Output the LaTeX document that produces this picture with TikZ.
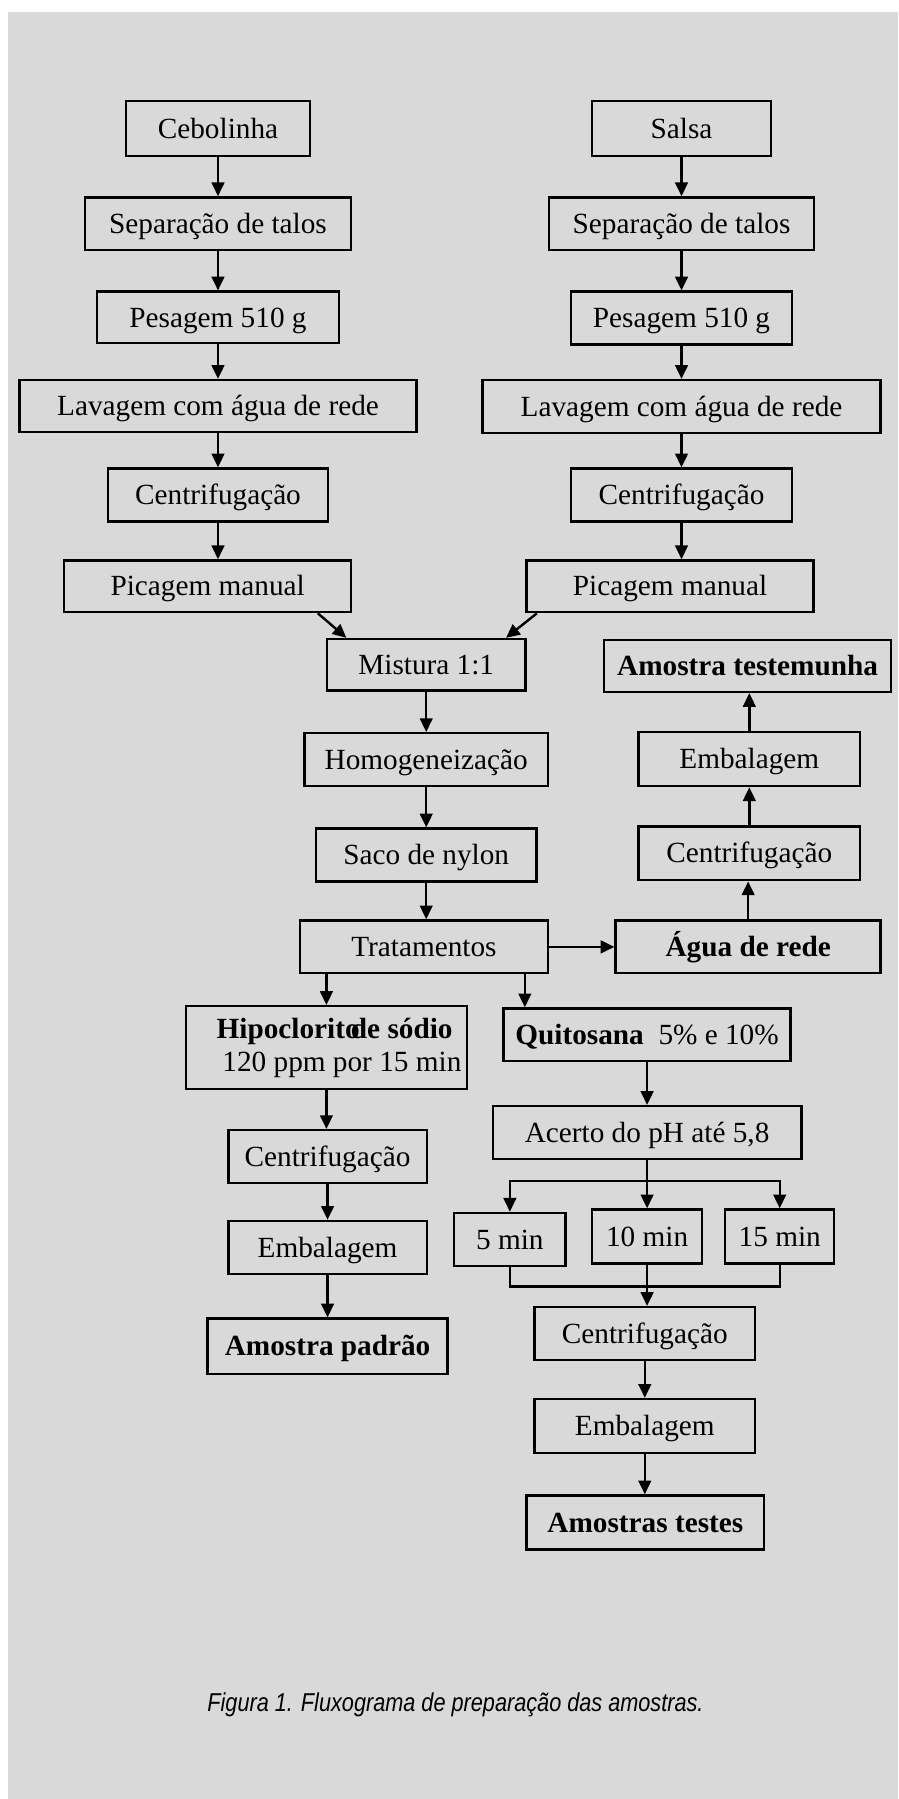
\documentclass[tikz,border=0pt]{standalone}
\usepackage{fontspec}
\setmainfont{Liberation Serif}
\newfontfamily\captionfont[FakeStretch=0.84]{Liberation Sans}
\usetikzlibrary{positioning, arrows.meta}
\definecolor{paper}{RGB}{217,217,217}

\begin{document}
\begin{tikzpicture}[
  x=1pt, y=-1pt,
  plainbox/.style={draw, line width=2.1pt, rectangle, inner sep=0pt, minimum height=46pt, align=center, font=\fontsize{25.5}{29}\selectfont},
  box/.style={plainbox, text height=23.5pt, text depth=6.6pt},
  boldbox/.style={box, font=\fontsize{25.5}{29}\selectfont\bfseries},
  arrow/.style={-{Triangle[length=12pt,width=11pt]}, line width=2.1pt},
  link/.style={line width=2.1pt, line cap=rect}
]

\fill[white] (0,0) rectangle (783,1568);
\fill[paper] (7,10.5) rectangle (783,1568);
\useasboundingbox (0,0) rectangle (783,1568);

% cebolinha
\node[box, minimum width=160pt, minimum height=48pt] (cebL) at (190,112) {Cebolinha};
\node[box, minimum width=232pt, below=34pt of cebL] (sepL) {Separação de talos};
\node[box, minimum width=211pt, minimum height=45pt, below=34pt of sepL] (pesL) {Pesagem 510 g};
\node[box, minimum width=346pt, minimum height=45pt, below=30pt of pesL] (lavL) {Lavagem com água de rede};
\node[box, minimum width=192pt, below=30pt of lavL] (cenL) {Centrifugação};
\node[box, minimum width=250pt, minimum height=45pt, below=32pt of cenL, xshift=-9pt] (picL) {Picagem manual};

% salsa
\node[box, minimum width=156pt, minimum height=48pt] (salR) at (594,112) {Salsa};
\node[box, minimum width=231pt, below=34pt of salR] (sepR) {Separação de talos};
\node[box, minimum width=193pt, below=34pt of sepR] (pesR) {Pesagem 510 g};
\node[box, minimum width=347pt, below=29pt of pesR] (lavR) {Lavagem com água de rede};
\node[box, minimum width=193pt, below=29pt of lavR] (cenR) {Centrifugação};
\node[box, minimum width=250pt, minimum height=45pt, below=32pt of cenR, xshift=-10pt] (picR) {Picagem manual};

% mistura
\node[box, minimum width=173pt, minimum height=45pt] (mis) at (371.5,579.5) {Mistura 1:1};
\node[box, minimum width=212pt, below=35pt of mis] (hom) {Homogeneização};
\node[box, minimum width=192pt, below=35pt of hom] (sac) {Saco de nylon};
\node[box, minimum width=216pt, below=32pt of sac, xshift=-2pt] (tra) {Tratamentos};

% testemunha
\node[boldbox, minimum width=231pt, right=57pt of tra] (agu) {Água de rede};
\node[box, minimum width=193pt, minimum height=47pt, above=33pt of agu, xshift=1pt] (cenT) {Centrifugação};
\node[box, minimum width=193pt, minimum height=47pt, above=33pt of cenT] (embT) {Embalagem};
\node[boldbox, minimum width=250pt, minimum height=45pt, above=33pt of embT, xshift=-1.5pt] (tes) {Amostra testemunha};

% hipoclorito
\node[plainbox, minimum width=245pt, minimum height=72pt, align=left, font=\fontsize{25.5}{28.7}\selectfont] (hip) at (284.5,913)
  {\hspace*{22pt}\textbf{Hipoclorito\kern-0.3em de sódio}\\\hspace*{27pt}120 ppm por 15 min};
\node[box, minimum width=173pt, below=34pt of hip, xshift=1pt] (cenP) {Centrifugação};
\node[box, minimum width=173pt, below=31pt of cenP] (embP) {Embalagem};
\node[boldbox, minimum width=209pt, minimum height=48pt, below=37pt of embP] (pad) {Amostra padrão};

% quitosana
\node[box, minimum width=250pt] (qui) at (564,902) {\textbf{Quitosana}\ \ 5\% e 10\%};
\node[box, minimum width=269pt, below=37pt of qui] (ace) {Acerto do pH até 5,8};
\node[box, minimum width=96pt, minimum height=47pt, below=42pt of ace] (m10) {10 min};
\node[box, minimum width=97pt, left=21pt of m10, yshift=-2.5pt] (m5) {5 min};
\node[box, minimum width=95pt, minimum height=47pt, right=18pt of m10] (m15) {15 min};
\node[box, minimum width=192pt, below=36pt of m10, xshift=-2pt] (cenQ) {Centrifugação};
\node[box, minimum width=192pt, minimum height=47pt, below=32pt of cenQ] (embQ) {Embalagem};
\node[boldbox, minimum width=207pt, minimum height=47pt, below=35pt of embQ, xshift=0.5pt] (tst) {Amostras testes};

\node[font=\captionfont\itshape\fontsize{22.5}{27}\selectfont] (cap) at (397,1486) {Figura 1. Fluxograma de preparação das amostras.};

% arrows
\foreach \a/\b in {cebL/sepL, sepL/pesL, pesL/lavL, lavL/cenL, cenL/picL,
                   salR/sepR, sepR/pesR, pesR/lavR, lavR/cenR, cenR/picR,
                   mis/hom, hom/sac, sac/tra,
                   hip/cenP, cenP/embP, embP/pad,
                   qui/ace, cenQ/embQ, embQ/tst}
  \draw[arrow] (\a.south) -- (\a.south |- \b.north);

\foreach \a/\b in {agu/cenT, cenT/embT, embT/tes}
  \draw[arrow] (\a.north) -- (\a.north |- \b.south);

\draw[arrow] ([xshift=-30pt]picL.south east) -- ([xshift=18pt]mis.north west);
\draw[arrow] ([xshift=10pt]picR.south west) -- ([xshift=-18pt]mis.north east);

\draw[arrow] (tra.east) -- (agu.west);
\draw[arrow] (hip.north |- tra.south) -- (hip.north);
\coordinate (quiIn) at ([xshift=19.5pt]qui.north west);
\draw[arrow] (quiIn |- tra.south) -- (quiIn);

% tempos
\coordinate (split) at ([yshift=-18pt]ace.south);
\draw[link] (m5.north |- split) -- (m15.north |- split);
\draw[arrow] (ace.south) -- (ace.south |- m10.north);
\draw[arrow] (m5.north |- split) -- (m5.north);
\draw[arrow] (m15.north |- split) -- (m15.north);

\coordinate (join) at ([yshift=-19pt]m10.south);
\draw[link] (m5.south) -- (m5.south |- join) -- (m15.south |- join) -- (m15.south);
\draw[arrow] (m10.south) -- (m10.south |- cenQ.north);

\end{tikzpicture}
\end{document}
